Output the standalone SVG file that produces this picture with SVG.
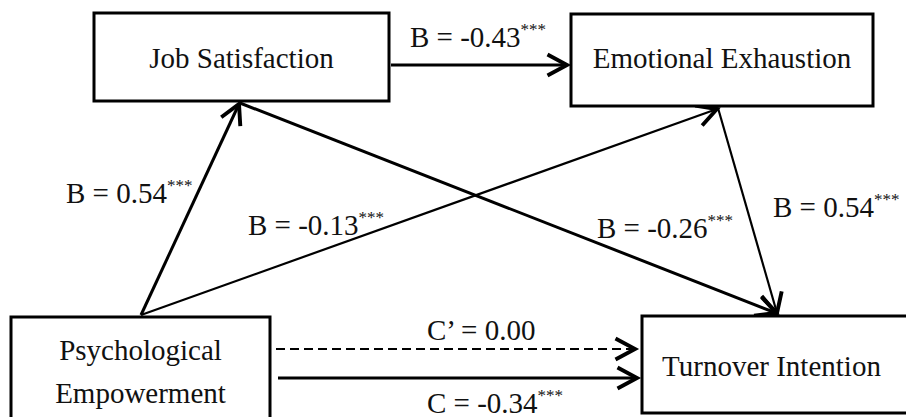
<svg xmlns="http://www.w3.org/2000/svg" width="906" height="417" viewBox="0 0 906 417">
<style>
.box{fill:#fff;stroke:#000;stroke-width:3}
.t{font-family:'Liberation Serif','DejaVu Serif',serif;font-size:29px;fill:#111}
.sup{font-size:17px}
.c{stroke:#000;stroke-width:3;fill:none;marker-end:url(#ah)}
.thin{stroke-width:2.2}
.dash{stroke-width:2.2;stroke-dasharray:9 5}
</style>
<defs>
<marker id="ah" markerUnits="userSpaceOnUse" markerWidth="30" markerHeight="30" viewBox="-16 -10 20 20" refX="0" refY="0" orient="auto">
<path d="M -13 -7 L 0 0 L -13 7" fill="none" stroke="#000" stroke-width="2.6"/>
</marker>
</defs>
<rect width="906" height="417" fill="#fff"/>
<g id="connectors">
<line class="c" x1="391" y1="65" x2="567" y2="65"/>
<line class="c" x1="141" y1="315" x2="239" y2="104"/>
<line class="c thin" x1="141" y1="315" x2="717" y2="109"/>
<line class="c" x1="240" y1="103" x2="776" y2="313"/>
<line class="c thin" x1="718" y1="108" x2="777" y2="313"/>
<line class="c dash" x1="276" y1="349" x2="635" y2="349"/>
<line class="c" x1="278" y1="378" x2="637" y2="378"/>
<text class="t" font-family="Liberation Serif" x="410" y="47">B = -0.43<tspan class="sup" dy="-12">***</tspan></text>
<text class="t" font-family="Liberation Serif" x="66" y="203">B = 0.54<tspan class="sup" dy="-12">***</tspan></text>
<text class="t" font-family="Liberation Serif" x="248" y="235">B = -0.13<tspan class="sup" dy="-12">***</tspan></text>
<text class="t" font-family="Liberation Serif" x="597" y="238">B = -0.26<tspan class="sup" dy="-12">***</tspan></text>
<text class="t" font-family="Liberation Serif" x="773" y="217">B = 0.54<tspan class="sup" dy="-12">***</tspan></text>
<text class="t" font-family="Liberation Serif" x="427" y="340">C’ = 0.00</text>
<text class="t" font-family="Liberation Serif" x="427" y="413">C = -0.34<tspan class="sup" dy="-12">***</tspan></text>
</g>
<g id="job-satisfaction">
<rect class="box" x="94" y="13" width="295" height="88"/>
<text class="t" font-family="Liberation Serif" x="241.5" y="68" text-anchor="middle">Job Satisfaction</text>
</g>
<g id="emotional-exhaustion">
<rect class="box" x="571" y="14" width="302" height="92"/>
<text class="t" font-family="Liberation Serif" x="722" y="68" text-anchor="middle">Emotional Exhaustion</text>
</g>
<g id="psychological-empowerment">
<rect class="box" x="11" y="317" width="259" height="120"/>
<text class="t" font-family="Liberation Serif" x="140.5" y="360" text-anchor="middle">Psychological</text>
<text class="t" font-family="Liberation Serif" x="140.5" y="403" text-anchor="middle">Empowerment</text>
</g>
<g id="turnover-intention">
<rect class="box" x="642" y="316" width="290" height="97"/>
<text class="t" font-family="Liberation Serif" x="771.5" y="376" text-anchor="middle">Turnover Intention</text>
</g>
</svg>
